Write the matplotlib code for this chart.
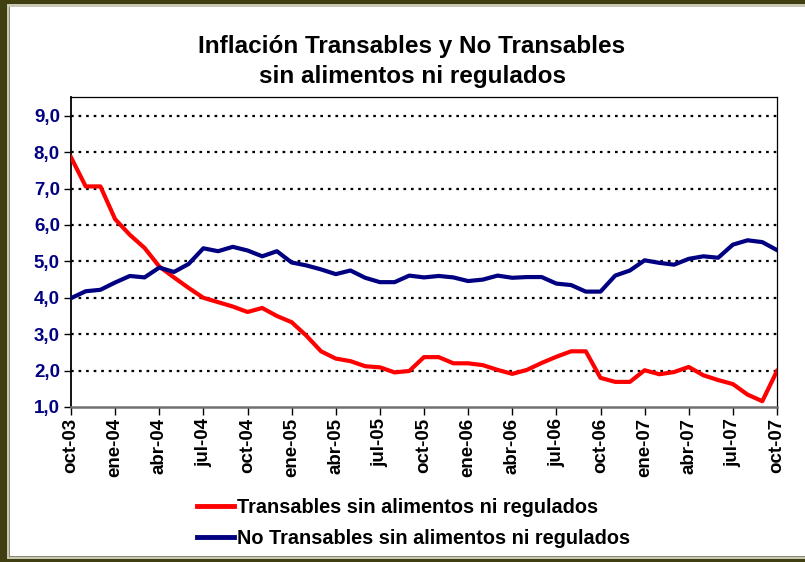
import matplotlib
matplotlib.use("Agg")
import matplotlib.pyplot as plt
from matplotlib.patches import Rectangle
from matplotlib.lines import Line2D

# ---- data (monthly, oct-03 .. oct-07) ----
transables = [7.86, 7.06, 7.06, 6.16, 5.73, 5.37, 4.86, 4.56, 4.27, 4.00,
              3.88, 3.76, 3.61, 3.72, 3.50, 3.33, 2.96, 2.53, 2.33, 2.26,
              2.12, 2.09, 1.95, 1.99, 2.37, 2.37, 2.20, 2.20, 2.15, 2.02,
              1.91, 2.02, 2.21, 2.38, 2.53, 2.53, 1.80, 1.69, 1.69, 2.01,
              1.90, 1.96, 2.10, 1.87, 1.74, 1.63, 1.34, 1.16, 1.99]
no_transables = [3.99, 4.18, 4.22, 4.42, 4.60, 4.56, 4.83, 4.71, 4.93, 5.36,
                 5.28, 5.40, 5.30, 5.14, 5.28, 4.97, 4.89, 4.78, 4.65, 4.75,
                 4.55, 4.43, 4.43, 4.61, 4.56, 4.60, 4.56, 4.46, 4.50, 4.61,
                 4.55, 4.57, 4.57, 4.39, 4.35, 4.17, 4.17, 4.61, 4.75, 5.03,
                 4.96, 4.91, 5.07, 5.14, 5.10, 5.46, 5.58, 5.53, 5.31]
tick_labels = ["oct-03", "ene-04", "abr-04", "jul-04", "oct-04", "ene-05",
               "abr-05", "jul-05", "oct-05", "ene-06", "abr-06", "jul-06",
               "oct-06", "ene-07", "abr-07", "jul-07", "oct-07"]
y_ticks = [1, 2, 3, 4, 5, 6, 7, 8, 9]
series_names = ["Transables sin alimentos ni regulados",
                "No Transables sin alimentos ni regulados"]

plt.rcParams['font.family'] = ['Liberation Sans', 'DejaVu Sans']

W, H = 805, 562
fig = plt.figure(figsize=(W / 100, H / 100), dpi=100)

def fx(px):
    return px / W

def fy(py):
    return 1 - py / H

def prect(x0, y0, x1, y1, color):
    # rectangle given in pixel coords (y downward)
    fig.add_artist(Rectangle((fx(x0), fy(y1)), fx(x1 - x0), fy(y0) - fy(y1),
                             transform=fig.transFigure, facecolor=color,
                             edgecolor='none', zorder=10))

dark = '#3f3f12'
mid = '#8a8a70'
light = '#c8c8b4'
# outer band (left, top, bottom); right edge cropped in the original
prect(0, 0, 7, H, dark)
prect(0, 0, W, 4.5, dark)
prect(0, 559, W, H, dark)
# inner lines
prect(7, 4.5, 9.5, 559, light)
prect(7, 4.5, W, 7, light)
prect(7, 556.5, W, 559, light)
prect(9, 6.5, 10, 556.5, mid)
prect(9, 6.5, W, 7.2, mid)
prect(9, 556, W, 556.7, mid)

ax = fig.add_axes([fx(71), fy(407), fx(777 - 71), fy(97) - fy(407)])

x = list(range(len(transables)))
ax.plot(x, transables, color='#ff0000', linewidth=3.0,
        label=series_names[0], zorder=3)
ax.plot(x, no_transables, color='#000080', linewidth=3.0,
        label=series_names[1], zorder=3)

ax.set_xlim(0, len(transables) - 1)
ax.set_ylim(1, 1 + (407 - 97) / 36.4)

ax.set_yticks(y_ticks)
ax.set_yticklabels([f"{v:.1f}".replace('.', ',') for v in y_ticks],
                   fontsize=13.5, fontweight='bold', color='#000080')
ax.set_xticks(list(range(0, len(transables), 3)))
ax.set_xticklabels(tick_labels, rotation=90, fontsize=13.5, fontweight='bold',
                   color='black')
ax.tick_params(axis='y', direction='out', length=5, width=1, pad=3)
ax.tick_params(axis='x', direction='out', length=6, width=1, pad=2)

for v in y_ticks[1:]:
    ax.axhline(v, color='black', linestyle=(0, (1.2, 2.2)), linewidth=1.6,
               zorder=1)

ax.spines['left'].set_linewidth(1.3)
ax.spines['left'].set_color('black')
ax.spines['bottom'].set_linewidth(1.8)
ax.spines['bottom'].set_color('#707070')
for s in ['top', 'right']:
    ax.spines[s].set_linewidth(0.9)
    ax.spines[s].set_color('black')

fig.text(fx(412), fy(47), "Inflación Transables y No Transables",
         ha='center', va='center', fontsize=17.5, fontweight='bold')
fig.text(fx(412), fy(76), "sin alimentos ni regulados",
         ha='center', va='center', fontsize=17.5, fontweight='bold')

handles = [Line2D([], [], color='#ff0000', linewidth=3.5),
           Line2D([], [], color='#000080', linewidth=3.5)]
leg = fig.legend(handles, series_names, loc='upper left',
                 bbox_to_anchor=(fx(189), fy(490)), frameon=False,
                 prop={'size': 14.3, 'weight': 'bold'}, handlelength=1.85,
                 handletextpad=0.15, labelspacing=0.62, borderaxespad=0)

fig.savefig("out.png", dpi=100)
